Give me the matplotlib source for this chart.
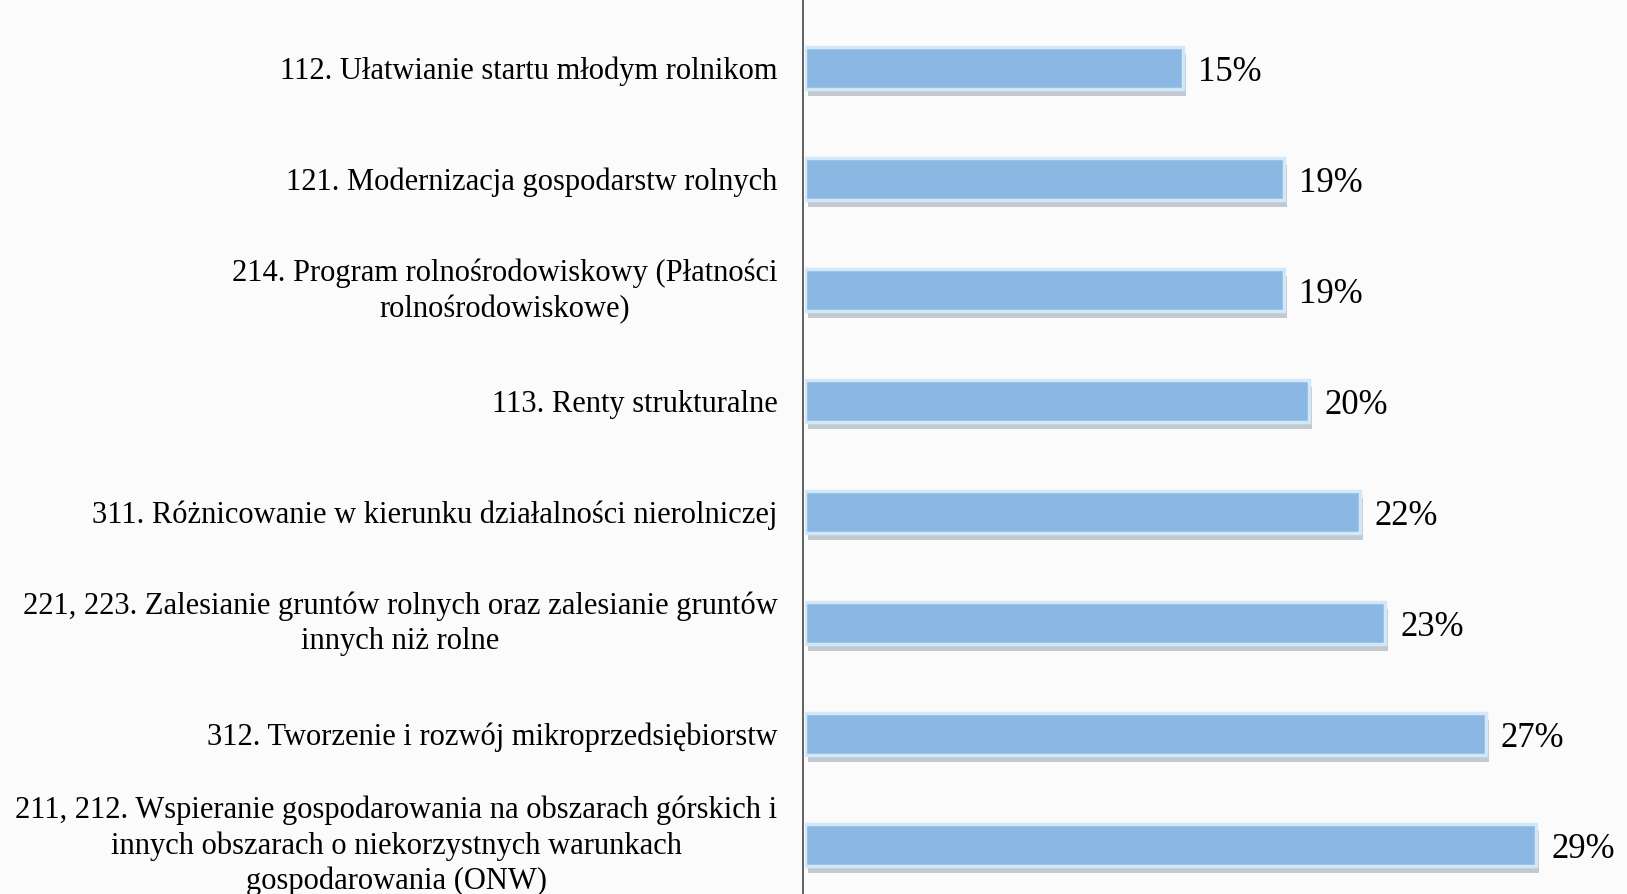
import matplotlib.pyplot as plt
from matplotlib import patheffects as pe

labels = [
    "112. Ułatwianie startu młodym rolnikom",
    "121. Modernizacja gospodarstw rolnych",
    "214. Program rolnośrodowiskowy (Płatności\nrolnośrodowiskowe)",
    "113. Renty strukturalne",
    "311. Różnicowanie w kierunku działalności nierolniczej",
    "221, 223. Zalesianie gruntów rolnych oraz zalesianie gruntów\ninnych niż rolne",
    "312. Tworzenie i rozwój mikroprzedsiębiorstw",
    "211, 212. Wspieranie gospodarowania na obszarach górskich i\ninnych obszarach o niekorzystnych warunkach\ngospodarowania (ONW)",
]
values = [15, 19, 19, 20, 22, 23, 27, 29]

plt.rcParams['font.family'] = ['Liberation Serif', 'DejaVu Serif']

fig = plt.figure(figsize=(16.27, 8.94), dpi=100)
fig.patch.set_facecolor('#fbfbfb')
ax = fig.add_axes([805 / 1627, 0, 1 - 805 / 1627, 1])
ax.set_facecolor('none')

pos = list(range(len(values)))
bars = ax.barh(pos, values, height=0.38, color='#8ab8e3',
               edgecolor='#d2e8f8', linewidth=2.5)
for b in bars:
    b.set_path_effects([pe.SimplePatchShadow(offset=(2, -5), shadow_rgbFace='#6f7f90', alpha=0.4),
                        pe.Normal()])

for p, v, lab in zip(pos, values, labels):
    ax.text(v + 0.6, p + 0.04, f"{v}%", va='center', ha='left', fontsize=25, color='black')
    dy = 0.03 if '\n' not in lab else 0.01
    ax.text(-1.1, p + dy, lab, va='center', ha='right', ma='center',
            fontsize=22, color='black', linespacing=1.28)

ax.set_xlim(0, 32.6)
ax.set_ylim(7.445, -0.617)
ax.set_xticks([])
ax.set_yticks([])
for s in ['top', 'right', 'bottom']:
    ax.spines[s].set_visible(False)
ax.spines['left'].set_position(('data', -0.08))
ax.spines['left'].set_color('#555555')
ax.spines['left'].set_linewidth(1.3)

fig.savefig('out.png', dpi=100, facecolor=fig.get_facecolor())
